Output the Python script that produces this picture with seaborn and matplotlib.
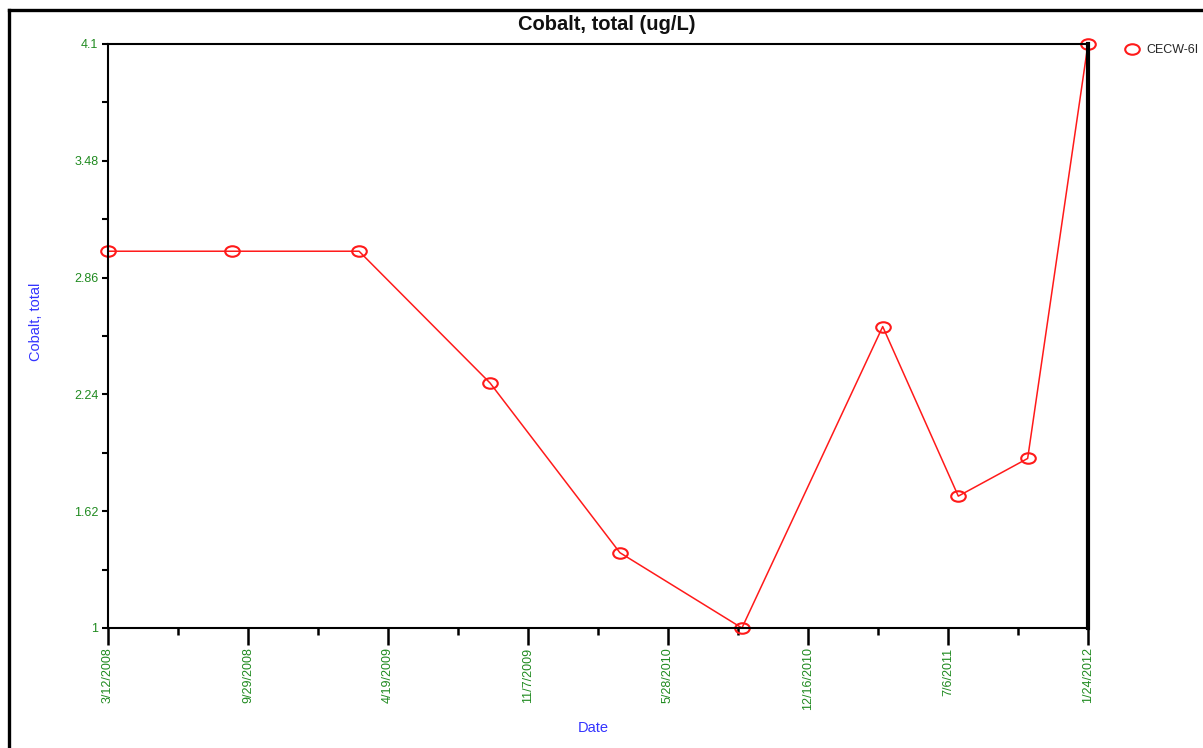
import numpy as np
import pandas as pd
import matplotlib
matplotlib.use("Agg")
import matplotlib.pyplot as plt
import matplotlib.dates as mdates
from matplotlib.path import Path
from matplotlib.transforms import Affine2D
from matplotlib.lines import Line2D
import seaborn as sns

# Sample dates and cobalt concentrations for well CECW-6I
sample_dates = ["2008-03-12", "2008-09-07", "2009-03-09", "2009-09-14", "2010-03-20",
                "2010-09-12", "2011-04-03", "2011-07-21", "2011-10-29", "2012-01-24"]
cobalt_values = [3.0, 3.0, 3.0, 2.3, 1.4, 1.0, 2.6, 1.7, 1.9, 4.1]
series_name = "CECW-6I"

y_ticks = [1, 1.62, 2.24, 2.86, 3.48, 4.1]
x_tick_labels = ["3/12/2008", "9/29/2008", "4/19/2009", "11/7/2009",
                 "5/28/2010", "12/16/2010", "7/6/2011", "1/24/2012"]
x_start, x_end = "2008-03-12", "2012-01-24"

title = "Cobalt, total (ug/L)"
y_label = "Cobalt, total"
x_label = "Date"

sns.set_theme(style="ticks")
plt.rcParams["font.family"] = ["Liberation Sans", "DejaVu Sans"]

W, H = 1203, 748
fig = plt.figure(figsize=(W / 100, H / 100), dpi=100)
ax = fig.add_axes([108 / W, 1 - 628 / H, 980 / W, 584 / H])

df = pd.DataFrame({"date": pd.to_datetime(sample_dates), "value": cobalt_values})

# flattened ellipse marker
ellipse = Path.unit_circle().transformed(Affine2D().scale(1.0, 0.72))

red = "#ff1a1a"
sns.lineplot(data=df, x="date", y="value", ax=ax, color=red, linewidth=1.1,
             marker="o", markersize=10, markerfacecolor="none",
             markeredgecolor=red, markeredgewidth=1.5)
for ln in ax.lines:
    ln.set_marker(ellipse)
    ln.set_markersize(10.5)
    ln.set_clip_on(False)

# axes limits and ticks
x0 = mdates.date2num(pd.Timestamp(x_start))
x1 = mdates.date2num(pd.Timestamp(x_end))
ax.set_xlim(x0, x1)
ax.set_ylim(y_ticks[0], y_ticks[-1])

major_x = np.linspace(x0, x1, len(x_tick_labels))
ax.set_xticks(major_x)
ax.set_xticklabels(x_tick_labels, rotation=90)
ax.set_xticks((major_x[:-1] + major_x[1:]) / 2, minor=True)

ax.set_yticks(y_ticks)
ax.set_yticklabels([f"{v:g}" for v in y_ticks])
ax.set_yticks([(a + b) / 2 for a, b in zip(y_ticks[:-1], y_ticks[1:])], minor=True)

tick_green = "#1f8a1f"
ax.tick_params(axis="x", which="major", direction="out", length=12, width=1.8,
               colors="black", labelcolor=tick_green, labelsize=9, pad=2)
ax.tick_params(axis="x", which="minor", direction="out", length=5, width=1.8, colors="black")
ax.tick_params(axis="y", which="major", direction="out", length=4, width=1.5,
               colors="black", labelcolor=tick_green, labelsize=9, pad=3)
ax.tick_params(axis="y", which="minor", direction="out", length=4, width=1.5, colors="black")

for side in ["left", "bottom", "top"]:
    ax.spines[side].set_visible(True)
    ax.spines[side].set_color("black")
    ax.spines[side].set_linewidth(1.5)
ax.spines["right"].set_visible(True)
ax.spines["right"].set_color("black")
ax.spines["right"].set_linewidth(3)

blue = "#3333ff"
ax.set_ylabel(y_label, color=blue, fontsize=10.5)
ax.yaxis.set_label_coords(-0.066, 0.524)
ax.set_xlabel(x_label, color=blue, fontsize=10.5)
ax.xaxis.set_label_coords(0.495, -0.16)

fig.text(607 / W, 1 - 24 / H, title, ha="center", va="center",
         fontsize=14.5, fontweight="bold", color="#111111")

# legend with the marker only
handle = Line2D([], [], linestyle="none", marker=ellipse, markersize=10.5,
                markerfacecolor="none", markeredgecolor=red, markeredgewidth=1.5)
ax.legend(handles=[handle], labels=[series_name], loc="center left",
          bbox_to_anchor=(1124 / W, 1 - 50 / H), bbox_transform=fig.transFigure,
          frameon=False, borderpad=0, borderaxespad=0, handlelength=1.2,
          handletextpad=0.6, fontsize=9)

# page frame along the left and top edges
fig.add_artist(Line2D([9 / W, 9 / W], [0, 1 - 9.5 / H], color="black", linewidth=2.4,
                      transform=fig.transFigure, solid_capstyle="projecting"))
fig.add_artist(Line2D([9 / W, 1], [1 - 9.5 / H, 1 - 9.5 / H], color="black", linewidth=2.4,
                      transform=fig.transFigure, solid_capstyle="projecting"))

fig.savefig("out.png", dpi=100)
